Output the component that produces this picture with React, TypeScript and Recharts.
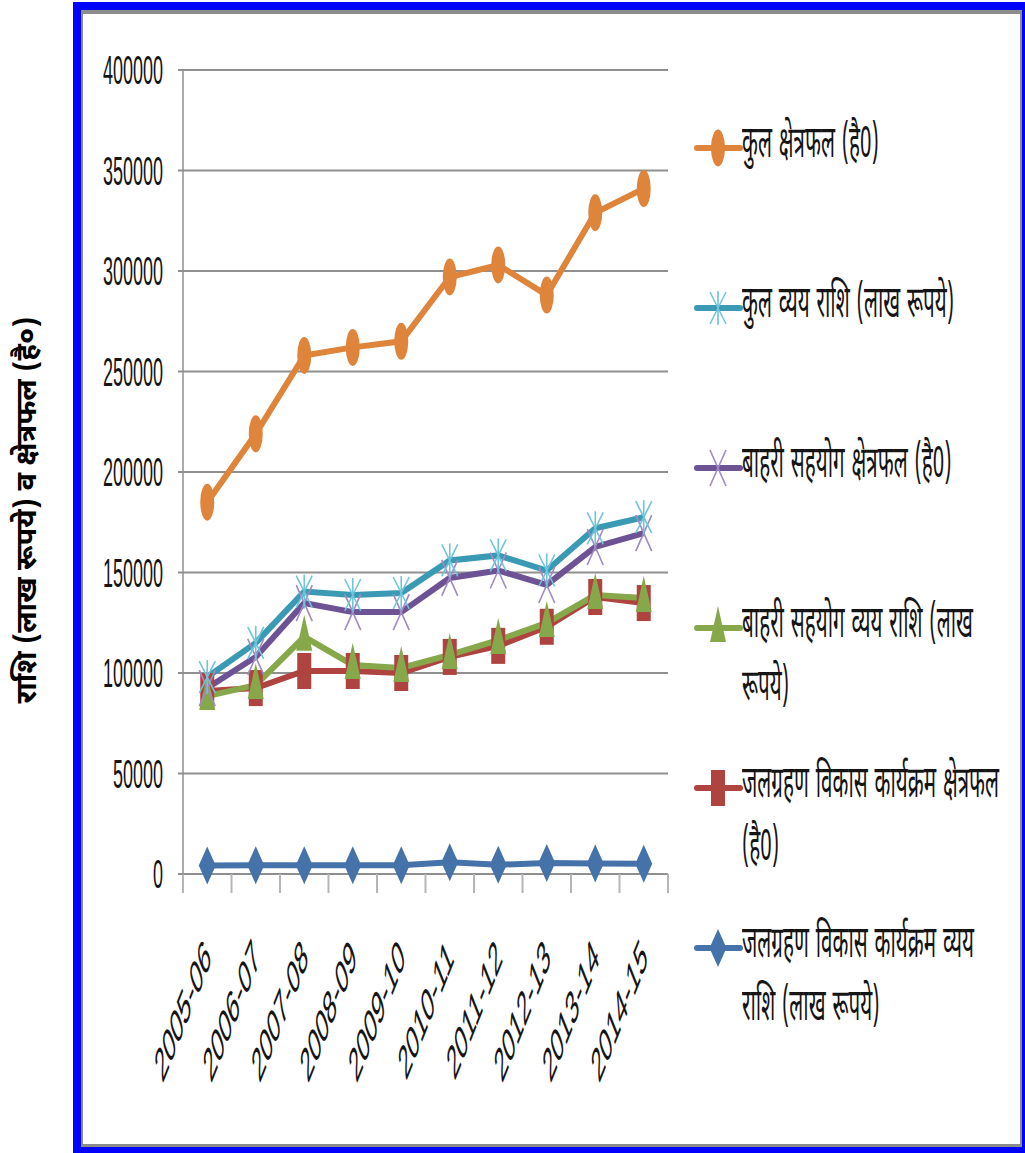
import React from "react";
import { LineChart, Line, XAxis, YAxis, CartesianGrid } from "recharts";

// Financial years on the category axis
const years = ["2005-06", "2006-07", "2007-08", "2008-09", "2009-10", "2010-11", "2011-12", "2012-13", "2013-14", "2014-15"];

// Series values
const totalArea = [185000, 219000, 258000, 262000, 265000, 297000, 303000, 288000, 329000, 341000];
const totalSpend = [98000, 115000, 140500, 138800, 139800, 156000, 158500, 151000, 172000, 177500];
const extArea = [92500, 108000, 134800, 130300, 130300, 147300, 151000, 143800, 162700, 169600];
const extSpend = [88500, 94000, 118000, 104000, 102500, 109000, 116400, 124900, 138800, 137300];
const wdpArea = [91000, 92500, 101000, 101000, 100000, 108000, 113500, 123000, 137800, 134800];
const wdpSpend = [4200, 4300, 4400, 4300, 4300, 5800, 4600, 5500, 5200, 5100];

const yTicks = [0, 50000, 100000, 150000, 200000, 250000, 300000, 350000, 400000];
const bandTicks = [0, 1, 2, 3, 4, 5, 6, 7, 8, 9, 10];

const seriesNames = [
  "कुल क्षेत्रफल (है0)",
  "कुल व्यय राशि (लाख रूपये)",
  "बाहरी सहयोग क्षेत्रफल (है0)",
  "बाहरी सहयोग व्यय राशि (लाख रूपये)",
  "जलग्रहण विकास कार्यक्रम क्षेत्रफल (है0)",
  "जलग्रहण विकास कार्यक्रम व्यय राशि (लाख रूपये)",
];
const yTitle = "राशि (लाख रूपये) व क्षेत्रफल (है०)";

const data = years.map((year, i) => ({
  year,
  pos: i + 0.5,
  totalArea: totalArea[i],
  totalSpend: totalSpend[i],
  extArea: extArea[i],
  extSpend: extSpend[i],
  wdpArea: wdpArea[i],
  wdpSpend: wdpSpend[i],
}));

const C = {
  orange: "#DF843B",
  teal: "#3B9AB3",
  tealLight: "#6FC3DA",
  purple: "#6D5294",
  purpleLight: "#A08AC4",
  green: "#87A74B",
  red: "#AF433F",
  blue: "#4573A9",
  grid: "#8f8f8f",
  text: "#151515",
};

const DEVA = "'Noto Sans Devanagari', 'Lohit Devanagari', 'Mangal', 'Noto Sans', sans-serif";

type MP = { cx: number; cy: number };

const Oval = ({ cx, cy }: MP) => <ellipse cx={cx} cy={cy} rx={7} ry={18.5} fill={C.orange} />;
const Star = ({ cx, cy }: MP) => (
  <g stroke={C.tealLight} strokeWidth={1.6}>
    <line x1={cx} y1={cy - 17} x2={cx} y2={cy + 17} />
    <line x1={cx - 8} y1={cy - 16} x2={cx + 8} y2={cy + 16} />
    <line x1={cx - 8} y1={cy + 16} x2={cx + 8} y2={cy - 16} />
  </g>
);
const Cross = ({ cx, cy }: MP) => (
  <g stroke={C.purpleLight} strokeWidth={1.6}>
    <line x1={cx - 8} y1={cy - 18} x2={cx + 8} y2={cy + 18} />
    <line x1={cx - 8} y1={cy + 18} x2={cx + 8} y2={cy - 18} />
  </g>
);
const Tri = ({ cx, cy }: MP) => (
  <polygon points={`${cx},${cy - 22} ${cx + 8},${cy + 14} ${cx - 8},${cy + 14}`} fill={C.green} />
);
const Sq = ({ cx, cy }: MP) => <rect x={cx - 7} y={cy - 18} width={14} height={36} fill={C.red} />;
const Dia = ({ cx, cy }: MP) => (
  <polygon points={`${cx},${cy - 19} ${cx + 8.5},${cy} ${cx},${cy + 19} ${cx - 8.5},${cy}`} fill={C.blue} />
);

const series = [
  { key: "totalArea", color: C.orange, Marker: Oval },
  { key: "totalSpend", color: C.teal, Marker: Star },
  { key: "extArea", color: C.purple, Marker: Cross },
  { key: "extSpend", color: C.green, Marker: Tri },
  { key: "wdpArea", color: C.red, Marker: Sq },
  { key: "wdpSpend", color: C.blue, Marker: Dia },
];
// drawing order: later series sit on top
const drawOrder = [5, 4, 3, 2, 1, 0];

const YTick = (props: any) => {
  const { x, y, payload } = props;
  return (
    <g transform={`translate(${x},${y}) scale(0.45,1)`}>
      <text x={0} y={0} dy={14} textAnchor="end" fontSize={40} fontFamily="'Liberation Sans', Arial, sans-serif" fill={C.text}>
        {payload.value}
      </text>
    </g>
  );
};

const XLabel = (props: any) => {
  const { x, payload } = props;
  return (
    <g transform={`translate(${x + 5},${960}) scale(0.4,1) rotate(-45)`}>
      <text x={0} y={0} textAnchor="end" fontSize={48} fontFamily="'Liberation Sans', Arial, sans-serif" fill={C.text}>
        {payload.value}
      </text>
    </g>
  );
};

const Empty = () => <g />;

const YTitle = (props: any) => {
  const { viewBox } = props;
  const cx = viewBox.x - 54;
  const cy = viewBox.y + viewBox.height / 2 + 38;
  return (
    <text
      x={cx}
      y={cy}
      transform={`rotate(-90 ${cx} ${cy})`}
      textAnchor="middle"
      dominantBaseline="central"
      fontSize={29}
      fontWeight="bold"
      fontFamily={DEVA}
      fill="#000"
    >
      {yTitle}
    </text>
  );
};

const LegendBlock = () => (
  <div style={{ position: "absolute", left: 0, top: 0 }}>
    {series.map((s, i) => {
      const cy = 148 + i * 160;
      const M = s.Marker;
      return (
        <React.Fragment key={s.key}>
          <svg style={{ position: "absolute", left: 696, top: cy - 25, overflow: "visible" }} width={46} height={50}>
            <line x1={1} y1={25} x2={44} y2={25} stroke={s.color} strokeWidth={6} strokeLinecap="round" />
            <M cx={22} cy={25} />
          </svg>
          <div
            style={{
              position: "absolute",
              left: 742,
              top: cy - 33,
              width: 268 / 0.47,
              transform: "scaleX(0.47)",
              transformOrigin: "left top",
              fontFamily: DEVA,
              fontSize: 44,
              lineHeight: "63px",
              wordSpacing: "3px",
              color: C.text,
              whiteSpace: "normal",
            }}
          >
            {seriesNames[i]}
          </div>
        </React.Fragment>
      );
    })}
  </div>
);

export default function App() {
  return (
    <div style={{ position: "absolute", left: 0, top: 0, width: 1025, height: 1153, overflow: "hidden", background: "#fff" }}>
      <div
        style={{
          position: "absolute",
          left: 73,
          top: 2,
          width: 957,
          height: 1153,
          boxSizing: "border-box",
          border: "8px solid #0000FF",
        }}
      >
        <div
          style={{
            position: "absolute",
            inset: 0,
            borderTop: "4px solid #8c8c8c",
            borderLeft: "2px solid #8c8c8c",
            borderRight: "2px solid #8c8c8c",
            borderBottom: "3px solid #8c8c8c",
            background: "#fff",
          }}
        />
      </div>
      <div style={{ position: "absolute", left: 0, top: 0 }}>
        <LineChart width={1025} height={1153} data={data} margin={{ top: 70, right: 357, bottom: 129, left: 83 }}>
          <CartesianGrid vertical={false} stroke={C.grid} strokeWidth={2} />
          <XAxis
            xAxisId="band"
            type="number"
            dataKey="pos"
            domain={[0, 10]}
            ticks={bandTicks}
            interval={0}
            height={20}
            tickSize={19}
            tick={Empty}
            axisLine={{ stroke: C.grid, strokeWidth: 2 }}
            tickLine={{ stroke: "#b5b5b5", strokeWidth: 2 }}
          />
          <XAxis
            xAxisId="lbl"
            type="category"
            scale="band"
            dataKey="year"
            height={130}
            axisLine={false}
            tickLine={false}
            interval={0}
            tick={XLabel}
          />
          <YAxis
            width={100}
            domain={[0, 400000]}
            ticks={yTicks}
            interval={0}
            tickSize={5}
            tickMargin={15}
            axisLine={{ stroke: C.grid, strokeWidth: 1.5 }}
            tickLine={{ stroke: C.grid, strokeWidth: 2 }}
            tick={YTick}
            label={{ content: YTitle }}
          />
          {drawOrder.map((idx) => {
            const s = series[idx];
            const M = s.Marker;
            return (
              <Line
                key={s.key}
                xAxisId="band"
                type="linear"
                dataKey={s.key}
                name={seriesNames[idx]}
                stroke={s.color}
                strokeWidth={6}
                isAnimationActive={false}
                dot={(p: any) => <M key={`${s.key}-${p.index}`} cx={p.cx} cy={p.cy} />}
                activeDot={false}
              />
            );
          })}
        </LineChart>
      </div>
      <LegendBlock />
    </div>
  );
}
